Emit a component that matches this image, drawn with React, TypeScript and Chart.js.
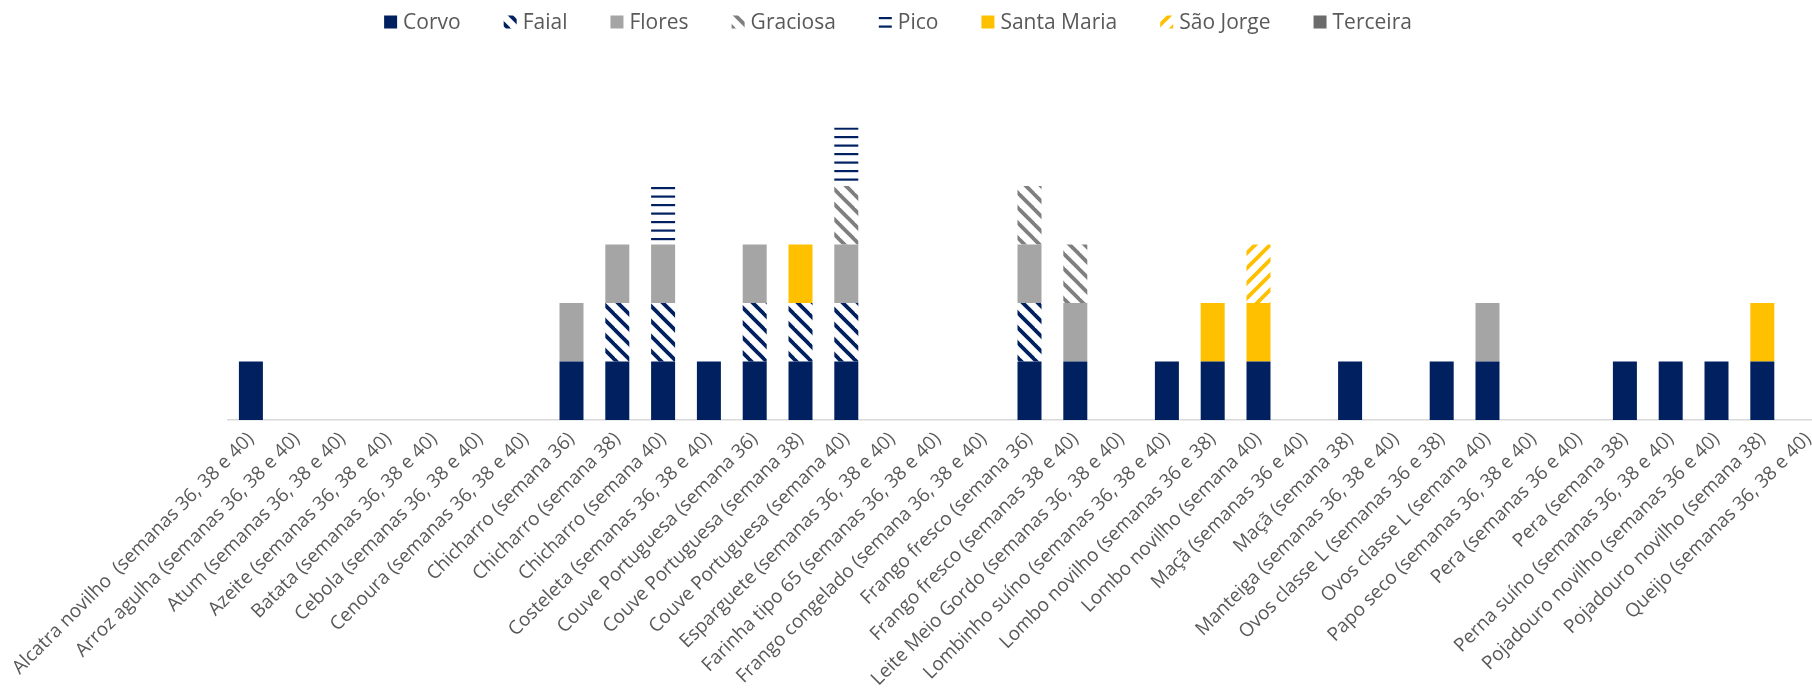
import { useEffect, useRef } from "react";
import { Chart, registerables } from "chart.js";

Chart.register(...registerables);

const categories = [
  "Alcatra novilho  (semanas 36, 38 e 40)",
  "Arroz agulha (semanas 36, 38 e 40)",
  "Atum (semanas 36, 38 e 40)",
  "Azeite (semanas 36, 38 e 40)",
  "Batata (semanas 36, 38 e 40)",
  "Cebola (semanas 36, 38 e 40)",
  "Cenoura (semanas 36, 38 e 40)",
  "Chicharro (semana 36)",
  "Chicharro (semana 38)",
  "Chicharro (semana 40)",
  "Costeleta (semanas 36, 38 e 40)",
  "Couve Portuguesa (semana 36)",
  "Couve Portuguesa (semana 38)",
  "Couve Portuguesa (semana 40)",
  "Esparguete (semanas 36, 38 e 40)",
  "Farinha tipo 65 (semanas 36, 38 e 40)",
  "Frango congelado (semana 36, 38 e 40)",
  "Frango fresco (semana 36)",
  "Frango fresco (semanas 38 e 40)",
  "Leite Meio Gordo (semanas 36, 38 e 40)",
  "Lombinho suíno (semanas 36, 38 e 40)",
  "Lombo novilho (semanas 36 e 38)",
  "Lombo novilho (semana 40)",
  "Maçã (semanas 36 e 40)",
  "Maçã (semana 38)",
  "Manteiga (semanas 36, 38 e 40)",
  "Ovos classe L (semanas 36 e 38)",
  "Ovos classe L (semana 40)",
  "Papo seco (semanas 36, 38 e 40)",
  "Pera (semanas 36 e 40)",
  "Pera (semana 38)",
  "Perna suíno (semanas 36, 38 e 40)",
  "Pojadouro novilho (semanas 36 e 40)",
  "Pojadouro novilho (semana 38)",
  "Queijo (semanas 36, 38 e 40)",
];

const seriesNames = ["Corvo", "Faial", "Flores", "Graciosa", "Pico", "Santa Maria", "São Jorge", "Terceira"];

//                1  2  3  4  5  6  7  8  9 10 11 12 13 14 15 16 17 18 19 20 21 22 23 24 25 26 27 28 29 30 31 32 33 34 35
const corvo =    [1, 0, 0, 0, 0, 0, 0, 1, 1, 1, 1, 1, 1, 1, 0, 0, 0, 1, 1, 0, 1, 1, 1, 0, 1, 0, 1, 1, 0, 0, 1, 1, 1, 1, 0];
const faial =    [0, 0, 0, 0, 0, 0, 0, 0, 1, 1, 0, 1, 1, 1, 0, 0, 0, 1, 0, 0, 0, 0, 0, 0, 0, 0, 0, 0, 0, 0, 0, 0, 0, 0, 0];
const flores =   [0, 0, 0, 0, 0, 0, 0, 1, 1, 1, 0, 1, 0, 1, 0, 0, 0, 1, 1, 0, 0, 0, 0, 0, 0, 0, 0, 1, 0, 0, 0, 0, 0, 0, 0];
const graciosa = [0, 0, 0, 0, 0, 0, 0, 0, 0, 0, 0, 0, 0, 1, 0, 0, 0, 1, 1, 0, 0, 0, 0, 0, 0, 0, 0, 0, 0, 0, 0, 0, 0, 0, 0];
const pico =     [0, 0, 0, 0, 0, 0, 0, 0, 0, 1, 0, 0, 0, 1, 0, 0, 0, 0, 0, 0, 0, 0, 0, 0, 0, 0, 0, 0, 0, 0, 0, 0, 0, 0, 0];
const santaMaria=[0, 0, 0, 0, 0, 0, 0, 0, 0, 0, 0, 0, 1, 0, 0, 0, 0, 0, 0, 0, 0, 1, 1, 0, 0, 0, 0, 0, 0, 0, 0, 0, 0, 1, 0];
const saoJorge = [0, 0, 0, 0, 0, 0, 0, 0, 0, 0, 0, 0, 0, 0, 0, 0, 0, 0, 0, 0, 0, 0, 1, 0, 0, 0, 0, 0, 0, 0, 0, 0, 0, 0, 0];
const terceira = [0, 0, 0, 0, 0, 0, 0, 0, 0, 0, 0, 0, 0, 0, 0, 0, 0, 0, 0, 0, 0, 0, 0, 0, 0, 0, 0, 0, 0, 0, 0, 0, 0, 0, 0];

const seriesValues = [corvo, faial, flores, graciosa, pico, santaMaria, saoJorge, terceira];

const NAVY = "#002060";
const GRAY = "#A5A5A5";
const STRIPE_GRAY = "#7F7F7F";
const GOLD = "#FFC000";
const DARK_GRAY = "#6B6B6B";
const TEXT = "#595959";
const FONT = '"Open Sans", "Noto Sans", sans-serif';

function diagonalPattern(color: string, down: boolean): CanvasPattern | string {
  const s = 15;
  const c = document.createElement("canvas");
  c.width = s;
  c.height = s;
  const ctx = c.getContext("2d");
  if (!ctx) return color;
  ctx.fillStyle = "#ffffff";
  ctx.fillRect(0, 0, s, s);
  ctx.strokeStyle = color;
  ctx.lineWidth = 3.8;
  for (let k = -2; k <= 2; k++) {
    ctx.beginPath();
    if (down) {
      ctx.moveTo(k * s - 3, -3);
      ctx.lineTo(k * s + s + 3, s + 3);
    } else {
      ctx.moveTo(k * s - 3, s + 3);
      ctx.lineTo(k * s + s + 3, -3);
    }
    ctx.stroke();
  }
  return ctx.createPattern(c, "repeat") || color;
}

function horizontalPattern(color: string): CanvasPattern | string {
  const c = document.createElement("canvas");
  c.width = 8;
  c.height = 17;
  const ctx = c.getContext("2d");
  if (!ctx) return color;
  ctx.fillStyle = "#ffffff";
  ctx.fillRect(0, 0, 8, 17);
  ctx.fillStyle = color;
  ctx.fillRect(0, 0, 8, 2.2);
  ctx.fillRect(0, 8.5, 8, 2.2);
  return ctx.createPattern(c, "repeat") || color;
}

const legendPlugin = {
  id: "excelLegend",
  afterDraw(chart: any) {
    const ctx: CanvasRenderingContext2D = chart.ctx;
    ctx.save();
    ctx.font = `21px ${FONT}`;
    const box = 13;
    const gapText = 6;
    const gapItem = 43;
    const centerX = 898;
    const centerY = 22;
    const items = chart.data.datasets.map((ds: any) => ({
      label: ds.label as string,
      fill: ds.backgroundColor,
      w: ctx.measureText(ds.label).width,
    }));
    const total =
      items.reduce((s: number, it: any) => s + box + gapText + it.w, 0) + gapItem * (items.length - 1);
    let x = centerX - total / 2;
    for (const it of items) {
      ctx.fillStyle = it.fill;
      ctx.fillRect(x, centerY - box / 2, box, box);
      ctx.fillStyle = TEXT;
      ctx.textBaseline = "middle";
      ctx.textAlign = "left";
      ctx.fillText(it.label, x + box + gapText, centerY + 1);
      x += box + gapText + it.w + gapItem;
    }
    ctx.restore();
  },
};

export default function App() {
  const canvasRef = useRef<HTMLCanvasElement | null>(null);

  useEffect(() => {
    document.body.style.margin = "0";
    document.body.style.overflow = "hidden";
    document.documentElement.style.overflow = "hidden";
    const canvas = canvasRef.current;
    if (!canvas) return;

    const fills = [
      NAVY,
      diagonalPattern(NAVY, true),
      GRAY,
      diagonalPattern(STRIPE_GRAY, true),
      horizontalPattern(NAVY),
      GOLD,
      diagonalPattern(GOLD, false),
      DARK_GRAY,
    ];

    const chart = new Chart(canvas, {
      type: "bar",
      data: {
        labels: categories,
        datasets: seriesNames.map((name, i) => ({
          label: name,
          data: seriesValues[i],
          backgroundColor: fills[i] as any,
          borderWidth: 0,
          barPercentage: 1,
          categoryPercentage: 0.524,
        })),
      },
      options: {
        animation: false,
        responsive: true,
        maintainAspectRatio: false,
        layout: { padding: { left: 228, right: 29, top: 69, bottom: 0 } },
        plugins: {
          legend: { display: false },
          tooltip: { enabled: false },
        },
        scales: {
          x: {
            stacked: true,
            grid: { display: false, drawTicks: false },
            border: { display: true, color: "#D9D9D9", width: 1.5 },
            ticks: {
              autoSkip: false,
              maxRotation: 45,
              minRotation: 45,
              padding: 8,
              color: TEXT,
              font: { family: FONT, size: 19 },
            },
            afterFit: (scale: any) => {
              scale.paddingLeft = 0;
              scale.paddingRight = 0;
              scale.height = 270;
            },
          },
          y: {
            stacked: true,
            display: false,
            min: 0,
            max: 6,
          },
        },
      },
      plugins: [legendPlugin],
    });

    return () => chart.destroy();
  }, []);

  return (
    <div style={{ position: "relative", width: "1860px", height: "690px", background: "#ffffff" }}>
      <canvas ref={canvasRef} />
    </div>
  );
}
